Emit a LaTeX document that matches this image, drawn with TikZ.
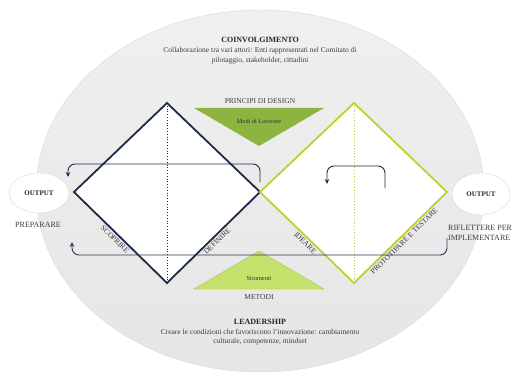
\documentclass[tikz,border=0pt]{standalone}
\usepackage{fontspec}
\setmainfont{Liberation Serif}
\usetikzlibrary{positioning}
\usetikzlibrary{arrows.meta,shapes.geometric}
\definecolor{navy}{HTML}{1E2A4A}
\definecolor{lime}{HTML}{C2CF2E}
\definecolor{dgreen}{HTML}{8DB43E}
\definecolor{lgreen}{HTML}{C5E36C}
\definecolor{txtgray}{HTML}{3C3C3C}

\begin{document}
\begin{tikzpicture}[x=1pt,y=1pt,
  every node/.style={text=txtgray},
  smalltxt/.style={font=\fontsize{7.5}{9.5}\selectfont, align=center},
  headtxt/.style={font=\bfseries\fontsize{8}{9.5}\selectfont, text=black!85},
  tinytxt/.style={font=\fontsize{6.3}{7}\selectfont, text=black!80},
  phase/.style={font=\fontsize{7.5}{9}\selectfont, sloped, anchor=north, inner sep=2.5pt},
  outbox/.style={ellipse, draw=gray!30, fill=white, minimum width=60pt, minimum height=40pt, inner sep=0pt, font=\bfseries\fontsize{7}{8}\selectfont, text=black!85},
  backloop/.style={draw=navy, line width=0.9pt, rounded corners=7pt, -{Stealth[length=5pt,width=4.5pt]}}]
\useasboundingbox (0,0) rectangle (512,373);

\draw[draw=gray!30, top color=gray!12, bottom color=gray!20] (260,182) ellipse [x radius=224pt, y radius=181pt];

\node[headtxt] (coinv) at (260,333) {COINVOLGIMENTO};
\node[smalltxt] (coinvtxt) at (260,317.5) {Collaborazione tra vari attori: Enti rappresentati nel Comitato di\\pilotaggio, stakeholder, cittadini};
\node[headtxt] (lead) at (260,51) {LEADERSHIP};
\node[smalltxt] (leadtxt) at (260,36) {Creare le condizioni che favoriscono l'innovazione: cambiamento\\culturale, competenze, mindset};

\coordinate (dL) at (74,181);
\coordinate (dM) at (260,181);
\coordinate (dR) at (447,181);
\coordinate (tL) at (167,270);
\coordinate (bL) at (167,90);
\coordinate (tR) at (354,270);
\coordinate (bR) at (354,90);

\draw[navy, line width=1.8pt, fill=white, line join=miter] (dL) -- (tL) -- (dM) -- (bL) -- cycle;
\draw[lime, line width=1.8pt, fill=white, line join=miter] (dM) -- (tR) -- (dR) -- (bR) -- cycle;
\draw[navy, dotted, line width=0.8pt] (tL) -- (bL);
\draw[lime, dotted, line width=0.8pt] (tR) -- (bR);

\path (dL) -- (bL) node[phase, pos=0.48] {SCOPRIRE};
\path (bL) -- (dM) node[phase, pos=0.5] {DEFINIRE};
\path (dM) -- (bR) node[phase, pos=0.52] {IDEARE};
\path (bR) -- (dR) node[phase, pos=0.5] {PROTOTIPARE E TESTARE};

\fill[dgreen] (194,265) -- (324,265) -- (259,227) -- cycle;
\node[smalltxt] (princ) at (260,272) {PRINCIPI DI DESIGN};
\node[tinytxt] (modi) at (259,252) {Modi di Lavorare};

\draw[lgreen!85!black, line width=0.4pt, fill=lgreen] (194,84) -- (324,84) -- (259,122) -- cycle;
\node[tinytxt] (strum) at (259,95) {Strumenti};
\node[smalltxt] (metodi) at (259,76) {METODI};

\node[outbox] (outL) at (39,180) {OUTPUT};
\node[outbox, minimum width=58pt, minimum height=42pt] (outR) at (481,179) {OUTPUT};
\node[smalltxt, font=\fontsize{8}{9}\selectfont] (prep) at (38,148) {PREPARARE};
\node[smalltxt, align=left, anchor=west, inner sep=0pt, font=\fontsize{8}{10}\selectfont] (rifl) at (448,140) {RIFLETTERE PER\\IMPLEMENTARE};

\coordinate (a1s) at (260,191);
\coordinate (a1e) at (68,196);
\coordinate (a2s) at (385,185);
\coordinate (a2e) at (327,189);
\coordinate (a3s) at (447,135);
\coordinate (a3e) at (72,131);
\draw[backloop] (a1s) -- ++(0,18) -| (a1e);
\draw[backloop] (a2s) -- ++(0,22) -| (a2e);
\draw[backloop, draw=navy!85!gray] (a3s) -- ++(0,-17) -| (a3e);

\end{tikzpicture}
\end{document}
